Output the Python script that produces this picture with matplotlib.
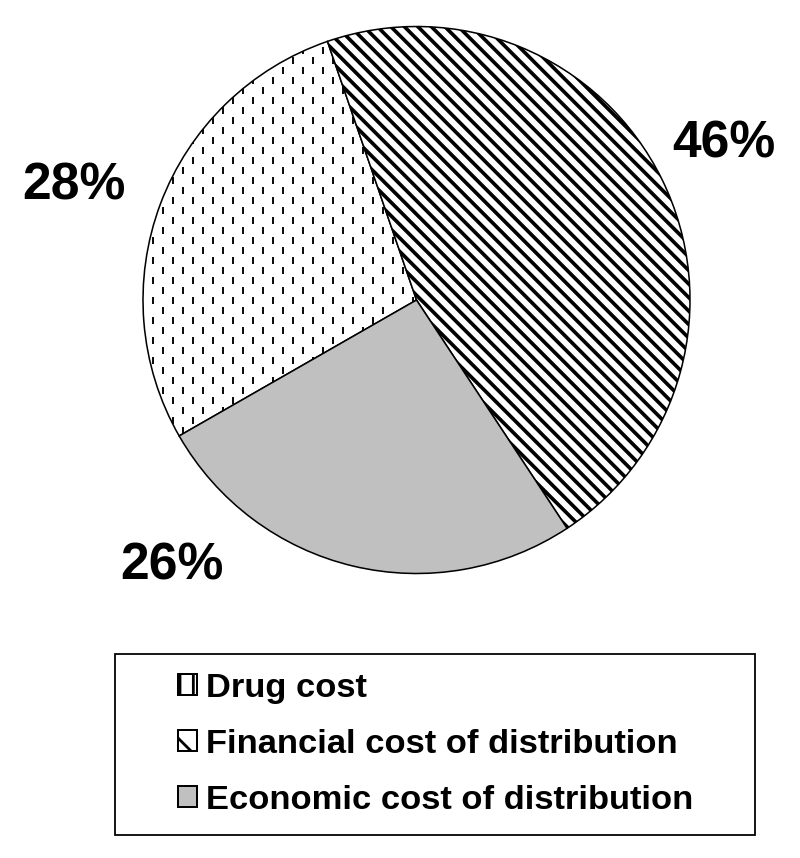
import matplotlib.pyplot as plt
import numpy as np
from matplotlib.patches import Patch, Rectangle
from matplotlib.collections import LineCollection

# data
labels = ['Drug cost', 'Financial cost of distribution', 'Economic cost of distribution']
shares = [28, 46, 26]
pct_text = ['28%', '46%', '26%']

plt.rcParams['font.family'] = ['Liberation Sans', 'DejaVu Sans']
plt.rcParams['font.weight'] = 'bold'
plt.rcParams['hatch.linewidth'] = 2.5

W, H = 800, 858
fig = plt.figure(figsize=(10, 10.725), dpi=80)

# pie placed in pixel terms
cx, cy, r = 416.5, 300, 273.5
ax = fig.add_axes([(cx - r) / W, (H - cy - r) / H, 2 * r / W, 2 * r / H])
wedges, _ = ax.pie(shares, startangle=209.8, counterclock=False,
                   colors=['white', 'white', '#c0c0c0'],
                   wedgeprops=dict(edgecolor='black', linewidth=1.4))
for w in wedges:
    w.set_clip_on(False)
ax.set_xlim(-1, 1)
ax.set_ylim(-1, 1)
ax.set_aspect('equal')
ax.axis('off')

# dashed pattern for the drug slice (staggered short vertical dashes)
step = 10 / r
seg = 7 / r
segs = []
for i, x in enumerate(np.arange(-1, 1, step)):
    off = (i % 2) * step
    for y in np.arange(-1 + off, 1, 2 * step):
        segs.append([(x, y), (x, y + seg)])
lc = LineCollection(segs, colors='black', linewidths=1.7, zorder=3)
lc.set_clip_path(wedges[0])
ax.add_collection(lc)

# diagonal stripes for the financial slice
dstep = 13.5 / r
segs = [[(-1.5, 1.5 + c), (1.5, -1.5 + c)] for c in np.arange(-2.5, 2.5, dstep)]
lc2 = LineCollection(segs, colors='black', linewidths=3.3, zorder=3)
lc2.set_clip_path(wedges[1])
ax.add_collection(lc2)

# percent labels (pixel positions of baselines)
pct_pos = [(74, 200), (724, 158), (172, 580)]
for t, (px, py) in zip(pct_text, pct_pos):
    fig.text(px / W, 1 - py / H, t, fontsize=46.5, ha='center', va='baseline')

# legend
handles = [Patch(facecolor='white', edgecolor='black', hatch='|', linewidth=1.8),
           Patch(facecolor='white', edgecolor='black', hatch='\\', linewidth=1.8),
           Patch(facecolor='#c0c0c0', edgecolor='black', linewidth=1.8)]
leg = fig.legend(handles, labels, loc='upper left', bbox_to_anchor=(178 / W, 1 - 673 / H),
                 frameon=False, fontsize=31, handlelength=0.55, handleheight=0.55,
                 handletextpad=0.25, labelspacing=0.72, borderpad=0, borderaxespad=0)
fig.add_artist(Rectangle((115 / W, 1 - 835 / H), 640 / W, 181 / H, transform=fig.transFigure,
                         fill=False, edgecolor='black', linewidth=1.6))

fig.savefig('out.png', dpi=80)
